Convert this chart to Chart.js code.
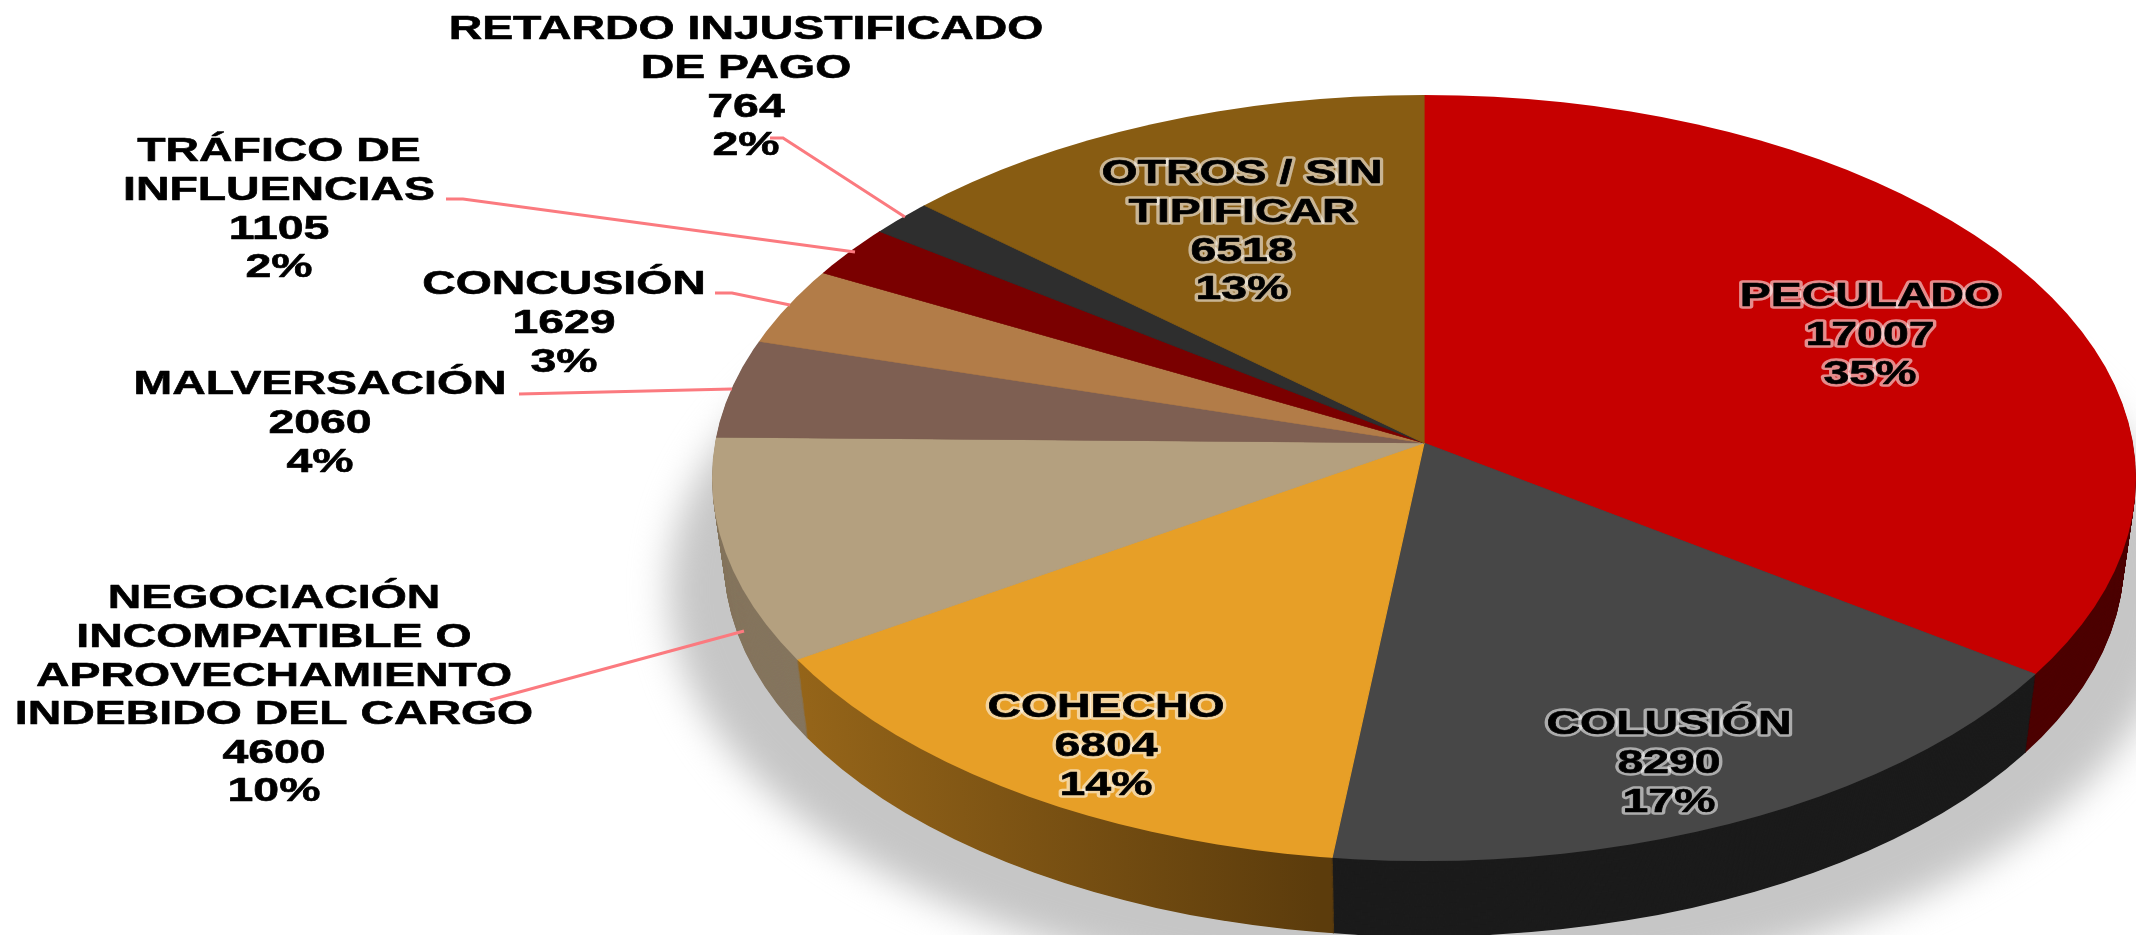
<!DOCTYPE html>
<html>
<head>
<meta charset="utf-8">
<style>
  html, body { margin: 0; background: #fff; overflow: hidden; }
  #chart { display: block; filter: blur(0.7px); }
</style>
<script src="https://cdn.jsdelivr.net/npm/chart.js@4/dist/chart.umd.min.js"></script>
</head>
<body>
<canvas id="chart" width="2136" height="935"></canvas>
<script>
// data
const categories = ['PECULADO', 'COLUSIÓN', 'COHECHO', 'NEGOCIACIÓN INCOMPATIBLE O APROVECHAMIENTO INDEBIDO DEL CARGO', 'MALVERSACIÓN', 'CONCUSIÓN', 'TRÁFICO DE INFLUENCIAS', 'RETARDO INJUSTIFICADO DE PAGO', 'OTROS / SIN TIPIFICAR']
const values = [17007, 8290, 6804, 4600, 2060, 1629, 1105, 764, 6518]
const percents = ['35%', '17%', '14%', '10%', '4%', '3%', '2%', '2%', '13%']
const nameLines = [
  ['PECULADO'],
  ['COLUSIÓN'],
  ['COHECHO'],
  ['NEGOCIACIÓN', 'INCOMPATIBLE O', 'APROVECHAMIENTO', 'INDEBIDO DEL CARGO'],
  ['MALVERSACIÓN'],
  ['CONCUSIÓN'],
  ['TRÁFICO DE', 'INFLUENCIAS'],
  ['RETARDO INJUSTIFICADO', 'DE PAGO'],
  ['OTROS / SIN', 'TIPIFICAR']
]

const faceColors = ['#c60000', '#474747', '#e79f27', '#b4a07f', '#7e5f52', '#b27c48', '#7a0000', '#2e2e2e', '#885c12']
const sideColors = ['#4d0000', '#1b1b1b', null, '#85755e', '#5a4338', '#7e5733', '#500000', '#1c1c1c', '#5c3e0c']

// label anchor: centre x, centre y of the first line
const labelAnchors = [[1870, 296], [1669, 724], [1106, 707], [274, 598], [320, 384], [564, 284], [279, 151], [746, 29], [1242, 173]]
const insideLabel = [true, true, true, false, false, false, false, false, true]
const leaders = [
  [[490, 700], [744, 631]],
  [[519, 394], [732, 389]],
  [[715, 293], [732, 293], [790, 305]],
  [[446, 199], [463, 199], [855, 252]],
  [[770, 138], [783, 138], [905, 217]]
]

const LINE_H = 38.6
const TEXT_STRETCH = 1.365
const DEPTH = 82
// the rim is a true ellipse, its centre sits below the pie's apex (perspective)
const RIM_RX = 712
const RIM_RY = 383
const RIM_DROP = 35
const SLOPE_RATIO = 0.53

function drawArcWith(arc, ctx, fill) {
  const clone = Object.create(arc)
  clone.options = Object.assign({}, arc.options, { backgroundColor: fill, borderColor: fill })
  clone.draw(ctx)
}

// one disc of the pie: clip to its rim, stretch the wedges from the apex
function withDisc(ctx, arc, drop, shrink, paint) {
  const { x: cx, y: cy } = arc
  ctx.save()
  ctx.beginPath()
  ctx.ellipse(cx, cy + RIM_DROP + drop, RIM_RX * shrink, RIM_RY * shrink, 0, 0, Math.PI * 2)
  ctx.clip()
  ctx.translate(cx, cy + drop)
  ctx.scale(1.2 * shrink, 1.2 * shrink * SLOPE_RATIO)
  ctx.translate(-cx, -cy)
  paint()
  ctx.restore()
}

const pie3d = {
  id: 'pie3d',
  beforeDatasetsDraw(chart) {
    const ctx = chart.ctx
    const arcs = chart.getDatasetMeta(0).data
    const cx = arcs[0].x

    // soft shadow under the pie
    ctx.save()
    ctx.filter = 'blur(18px)'
    ctx.fillStyle = '#c6c6c6'
    ctx.beginPath()
    ctx.ellipse(cx, 590, 755, 405, 0, 0, Math.PI * 2)
    ctx.fill()
    ctx.restore()

    const cohechoSide = ctx.createLinearGradient(800, 0, 1334, 0)
    cohechoSide.addColorStop(0, '#a26e1c')
    cohechoSide.addColorStop(1, '#5c3c0c')

    // side wall, bottom layer first
    for (let d = DEPTH; d >= 1; d--) {
      withDisc(ctx, arcs[0], d, 1 - (12 / 712) * (d / DEPTH), () => {
        arcs.forEach((arc, i) => drawArcWith(arc, ctx, sideColors[i] || cohechoSide))
      })
    }

    // top face
    withDisc(ctx, arcs[0], 0, 1, () => arcs.forEach(arc => arc.draw(ctx)))
    return false
  },
  afterDraw(chart) {
    const ctx = chart.ctx
    ctx.save()
    ctx.strokeStyle = '#fb7a7f'
    ctx.lineWidth = 3
    leaders.forEach(pts => {
      ctx.beginPath()
      pts.forEach(([x, y], i) => (i ? ctx.lineTo(x, y) : ctx.moveTo(x, y)))
      ctx.stroke()
    })
    ctx.restore()

    ctx.save()
    ctx.font = 'bold 34px "Liberation Sans"'
    ctx.textAlign = 'center'
    ctx.textBaseline = 'middle'
    ctx.lineJoin = 'round'
    categories.forEach((c, i) => {
      const lines = [...nameLines[i], String(values[i]), percents[i]]
      const [ax, ay] = labelAnchors[i]
      lines.forEach((txt, k) => {
        const y = ay + k * LINE_H
        ctx.save()
        ctx.translate(ax, y)
        ctx.scale(TEXT_STRETCH, 1)
        if (insideLabel[i]) {
          ctx.strokeStyle = 'rgba(255,255,255,0.55)'
          ctx.lineWidth = 5.5
          ctx.strokeText(txt, 0, 1)
        }
        ctx.fillStyle = '#000'
        ctx.strokeStyle = '#000'
        ctx.lineWidth = 0.6
        ctx.strokeText(txt, 0, 1)
        ctx.fillText(txt, 0, 1)
        ctx.restore()
      })
    })
    ctx.restore()
  }
}

new Chart(document.getElementById('chart'), {
  type: 'pie',
  data: {
    labels: categories,
    datasets: [{
      data: values,
      backgroundColor: faceColors,
      borderColor: faceColors,
      borderWidth: 1,
      clip: false
    }]
  },
  options: {
    responsive: false,
    animation: false,
    devicePixelRatio: 1,
    radius: 712,
    layout: { padding: { left: 712, bottom: 49 } },
    plugins: { legend: { display: false }, tooltip: { enabled: false } }
  },
  plugins: [pie3d]
})
</script>
</body>
</html>
